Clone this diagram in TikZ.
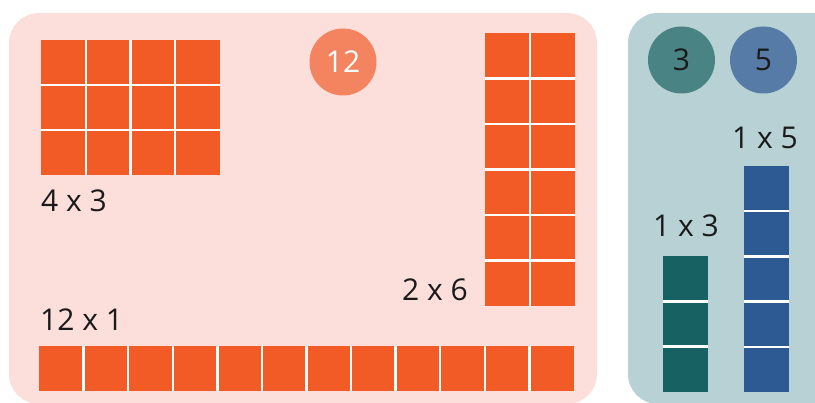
\documentclass[tikz,border=0pt]{standalone}
\usepackage{fontspec}
\setmainfont{Open Sans}
\definecolor{pinkbg}{HTML}{FCDEDB}
\definecolor{cellor}{HTML}{F25A26}
\definecolor{circor}{HTML}{F4845F}
\definecolor{rightbg}{HTML}{B8D1D4}
\definecolor{circteal}{HTML}{4A8383}
\definecolor{circblue}{HTML}{577BA7}
\definecolor{barteal}{HTML}{186163}
\definecolor{barblue}{HTML}{2E5A94}
\definecolor{txt}{HTML}{1A1A1A}
\begin{document}
\begin{tikzpicture}[x=1pt,y=-1pt,
  lbl/.style={font=\fontsize{30}{30}\selectfont, text=txt, inner sep=0pt},
  num/.style={circle, minimum size=67pt, inner sep=0pt, font=\fontsize{30}{30}\selectfont},
  sep/.style={white, line width=2.4pt}]
\useasboundingbox (0,0) rectangle (815,403);
\clip (0,0) rectangle (815,403);
% panels
\fill[pinkbg, rounded corners=30pt] (9,13) rectangle (597,404);
\fill[rightbg, rounded corners=30pt] (628,13) rectangle (845,404);
% 4 x 3 grid
\fill[cellor] (41,40) rectangle (220,175);
\foreach \i in {1,2,3} \draw[sep] (41+44.75*\i,40) -- (41+44.75*\i,175);
\foreach \j in {1,2} \draw[sep] (41,40+45*\j) -- (220,40+45*\j);
\node[lbl, anchor=base west] (l43) at (41,212) {4 x 3};
% 2 x 6 grid
\fill[cellor] (485,33) rectangle (575,306);
\draw[sep] (530,33) -- (530,306);
\foreach \j in {1,...,5} \draw[sep] (485,33+45.5*\j) -- (575,33+45.5*\j);
\node[lbl, anchor=base east] (l26) at (468,301) {2 x 6};
% 12 x 1 bar
\fill[cellor] (39,346) rectangle (574,391);
\foreach \i in {1,...,11} \draw[sep] (39+44.58*\i,346) -- (39+44.58*\i,391);
\node[lbl, anchor=base west] (l121) at (40,331) {12 x 1};
% circle 12
\node[num, fill=circor, text=white] (c12) at (343,62) {12};
% right panel circles
\node[num, fill=circteal, text=txt] (c3) at (681.5,60) {3};
\node[num, fill=circblue, text=txt] (c5) at (763.5,60) {5};
% 1 x 3 bar
\fill[barteal] (663,256) rectangle (708,392);
\foreach \j in {1,2} \draw[sep] (663,256+45.33*\j) -- (708,256+45.33*\j);
\node[lbl, anchor=base west] (l13) at (653,237) {1 x 3};
% 1 x 5 bar
\fill[barblue] (744,166) rectangle (789,392);
\foreach \j in {1,...,4} \draw[sep] (744,166+45.2*\j) -- (789,166+45.2*\j);
\node[lbl, anchor=base west] (l15) at (732,149) {1 x 5};
\end{tikzpicture}
\end{document}
